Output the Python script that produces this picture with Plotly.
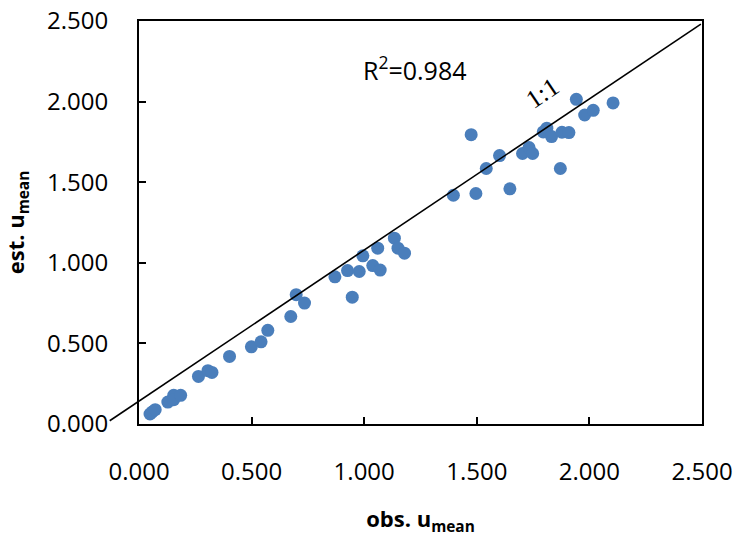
import plotly.graph_objects as go

obs = [0.049, 0.058, 0.072, 0.128, 0.154, 0.154, 0.185, 0.264, 0.306, 0.324,
       0.402, 0.499, 0.542, 0.572, 0.674, 0.698, 0.735, 0.870, 0.926, 0.947,
       0.978, 0.994, 1.038, 1.060, 1.071, 1.134, 1.150, 1.179, 1.396, 1.475,
       1.496, 1.542, 1.601, 1.647, 1.703, 1.732, 1.748, 1.795, 1.811, 1.832,
       1.871, 1.878, 1.909, 1.942, 1.979, 2.017, 2.105]
est = [0.062, 0.074, 0.089, 0.136, 0.178, 0.151, 0.178, 0.295, 0.331, 0.320,
       0.419, 0.479, 0.510, 0.581, 0.667, 0.802, 0.750, 0.913, 0.952, 0.787,
       0.946, 1.043, 0.983, 1.091, 0.955, 1.153, 1.091, 1.060, 1.419, 1.795,
       1.430, 1.585, 1.665, 1.459, 1.678, 1.715, 1.678, 1.812, 1.835, 1.783,
       1.585, 1.810, 1.808, 2.014, 1.917, 1.946, 1.992]

line_x = [-0.13, 2.495]
line_y = [0.02, 2.481]

tick_vals = [0, 0.5, 1.0, 1.5, 2.0, 2.5]
tick_text = ["0.000", "0.500", "1.000", "1.500", "2.000", "2.500"]
axis_min, axis_max = 0.0, 2.5

r2_text = "R<sup>2</sup>=0.984"
r2_pos = (1.225, 2.204)
one_to_one_pos = (1.79, 2.05)

FONT = "Open Sans"

fig = go.Figure()
fig.add_trace(go.Scatter(
    x=obs, y=est, mode="markers",
    marker=dict(size=13, color="#4a7ebb"),
    showlegend=False, cliponaxis=False,
))

span = axis_max - axis_min
fig.add_shape(
    type="line", xref="x domain", yref="y domain",
    x0=(line_x[0] - axis_min) / span, y0=(line_y[0] - axis_min) / span,
    x1=(line_x[1] - axis_min) / span, y1=(line_y[1] - axis_min) / span,
    line=dict(color="black", width=1.6), layer="above",
)

fig.add_annotation(x=r2_pos[0], y=r2_pos[1], text=r2_text, showarrow=False,
                   font=dict(family=FONT, size=25, color="black"))
fig.add_annotation(x=one_to_one_pos[0], y=one_to_one_pos[1], text="1:1",
                   showarrow=False, textangle=-34,
                   font=dict(family="Liberation Serif", size=26, color="black"))

axis_common = dict(
    range=[axis_min, axis_max], tickvals=tick_vals, ticktext=tick_text,
    ticks="inside", ticklen=7, tickwidth=2, tickcolor="black",
    showline=True, linecolor="black", linewidth=2, mirror=True,
    showgrid=False, zeroline=False, automargin=False,
    tickfont=dict(family=FONT, size=24, color="black"),
)

fig.update_xaxes(**axis_common, ticklabelstandoff=25,
                 title=dict(text="<b>obs. u<sub>mean</sub></b>",
                            font=dict(family=FONT, size=22, color="black"),
                            standoff=26))
fig.update_yaxes(**axis_common, ticklabelstandoff=24,
                 title=dict(text="<b>est. u<sub>mean</sub></b>",
                            font=dict(family=FONT, size=22, color="black"),
                            standoff=18))

fig.update_layout(
    width=737, height=539,
    margin=dict(l=139, r=35, t=21, b=115, autoexpand=False),
    plot_bgcolor="white", paper_bgcolor="white",
)

fig.write_html("out.html")
